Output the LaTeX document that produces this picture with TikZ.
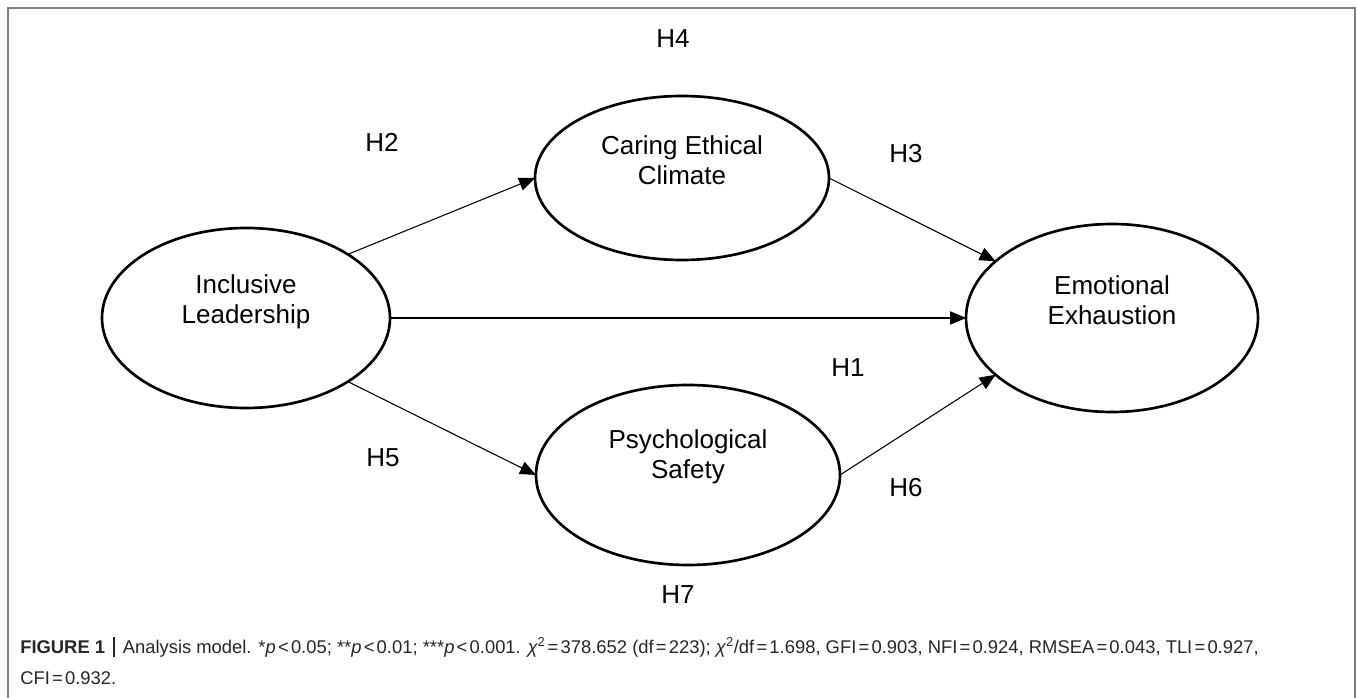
\documentclass[tikz,border=0pt]{standalone}
\usepackage{fontspec}
\setmainfont{Liberation Sans}
\usetikzlibrary{arrows.meta,shapes.geometric}
\newcommand{\eqs}{\hspace{0.12em}=\hspace{0.12em}}
\newcommand{\lts}{\hspace{0.12em}<\hspace{0.12em}}
\begin{document}
\begin{tikzpicture}[x=0.75pt,y=-0.75pt,
  latent/.style={draw, ellipse, line width=2pt, inner sep=0pt, outer sep=0pt},
  lbl/.style={font=\fontsize{19.5pt}{23pt}\selectfont, inner sep=0pt},
  ctext/.style={font=\fontsize{19.5pt}{22.5pt}\selectfont, align=center, inner sep=0pt},
  conn/.style={line width=0.8pt, -{Triangle[length=12pt,width=10pt]}},
  captxt/.style={font=\fontsize{13.8pt}{16pt}\selectfont, text=black!85, anchor=base west, inner sep=0pt},
  frame/.style={draw=black!50, line width=1.5pt}
]
\useasboundingbox (0,0) rectangle (1357,698);
\draw[frame] (8,740) -- (8,8) -- (1355,8) -- (1355,740);

% latent variables
\node[latent, minimum width=216pt, minimum height=135pt] (IL) at (246,318) {};
\node[latent, minimum width=220.5pt, minimum height=123pt] (CEC) at (682,178) {};
\node[latent, minimum width=228pt, minimum height=135pt] (PS) at (688,475) {};
\node[latent, minimum width=219pt, minimum height=141pt] (EE) at (1112,318) {};

\node[ctext] (ILt) at (246,302) {Inclusive\\Leadership};
\node[ctext] (CECt) at (682,160) {Caring Ethical\\Climate};
\node[ctext] (PSt) at (688,457) {Psychological\\Safety};
\node[ctext] (EEt) at (1112,300) {Emotional\\Exhaustion};

% paths
\draw[conn] (IL.32) -- (CEC.west);
\draw[conn] (CEC.east) -- (EE.154);
\draw[conn] (IL.east) -- (EE.west);
\draw[conn] (IL.-32) -- (PS.west);
\draw[conn] (PS.east) -- (EE.206);

% hypothesis labels
\node[lbl] (H4) at (673,39) {H4};
\node[lbl] (H2) at (382,142) {H2};
\node[lbl] (H3) at (906,154) {H3};
\node[lbl] (H1) at (848,368) {H1};
\node[lbl] (H5) at (383,458) {H5};
\node[lbl] (H6) at (906,488) {H6};
\node[lbl] (H7) at (678,595) {H7};

% caption
\node[captxt] (cap1) at (20,653) {\textbf{FIGURE 1}\hspace{0.45em}\rule[-0.2em]{0.06em}{1.05em}\hspace{0.45em}Analysis model. *{\itshape p}\lts0.05; **{\itshape p}\lts0.01; ***{\itshape p}\lts0.001. {\itshape χ}\textsuperscript{2}\eqs378.652 (df\eqs223); {\itshape χ}\textsuperscript{2}/df\eqs1.698, GFI\eqs0.903, NFI\eqs0.924, RMSEA\eqs0.043, TLI\eqs0.927,};
\node[captxt] (cap2) at (20,684) {CFI\eqs0.932.};
\end{tikzpicture}
\end{document}
